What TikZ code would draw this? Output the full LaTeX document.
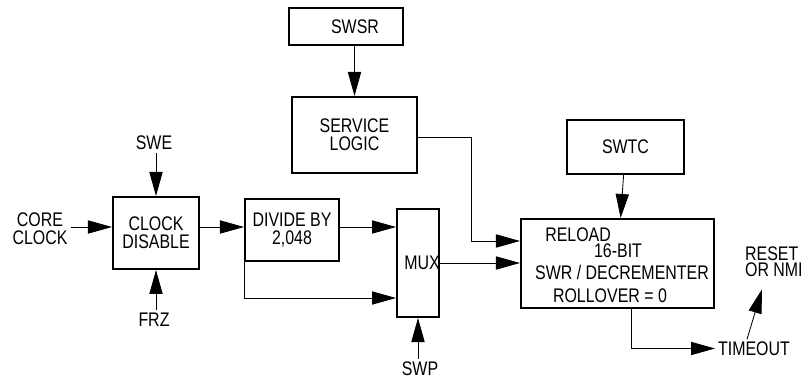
\documentclass[tikz,border=0pt]{standalone}
\usepackage{fontspec}
\setmainfont{Liberation Sans}[FakeStretch=0.81]
\usetikzlibrary{arrows.meta,calc}

\begin{document}
\begin{tikzpicture}[
    x=0.025cm, y=-0.025cm,
    font=\fontsize{14}{12.8}\selectfont,
    b/.style={draw, line width=1.4pt, align=center, inner sep=0pt},
    lb/.style={align=center, inner sep=2pt},
    fl/.style={-{Triangle[length=0.6cm,width=0.33cm]}, line width=0.6pt},
]
    \useasboundingbox (0,0) rectangle (802,379);
    % blocks
    \node[b, minimum width=2.15cm, minimum height=1.8cm] (cd) at (156,233) {CLOCK\\DISABLE};
    \node[b, minimum width=2.35cm, minimum height=1.55cm] (div) at (292,230) {DIVIDE BY\\2,048};
    \node[b, minimum width=1.05cm, minimum height=2.7cm] (mux) at (418,263) {};
    \node[lb] (muxt) at (422,263) {MUX};
    \node[b, minimum width=2.85cm, minimum height=0.925cm] (swsr) at (346,26.5) {\hspace*{0.45cm}SWSR};
    \node[b, minimum width=3.125cm, minimum height=1.9cm] (svc) at (354.5,135) {SERVICE\\LOGIC};
    \node[b, minimum width=2.925cm, minimum height=1.35cm] (swtc) at (625.5,147) {SWTC};
    \node[b, minimum width=4.825cm, minimum height=2.225cm] (reload) at (617.5,263.5) {};
    \node[lb, anchor=base west, inner sep=0pt] (rl) at (545,242) {RELOAD};
    \node[lb, anchor=base, inner sep=0pt] (bits) at (618,258) {16-BIT};
    \node[lb, anchor=base, inner sep=0pt] (dec) at (622,280) {SWR / DECREMENTER};
    \node[lb, anchor=base, inner sep=0pt] (ro) at (610,302.5) {ROLLOVER = 0};
    % outside labels
    \node[lb] (core) at (40,228.5) {CORE\\CLOCK};
    \node[lb] (swe) at (154,142.5) {SWE};
    \node[lb] (frz) at (154,320) {FRZ};
    \node[lb] (swp) at (420,369) {SWP};
    \node[lb, anchor=west] (tmo) at (715,348.5) {TIMEOUT};
    \node[lb, anchor=west, align=left, font=\fontsize{14}{11}\selectfont] (rst) at (742,261.5) {RESET\\OR NMI};
    % connectors
    \draw[fl] (core.east |- 0,227) -- (cd.west |- 0,227);
    \draw[fl] (cd.north |- swe.south) -- (cd.north);
    \draw[fl] (cd.south |- frz.north) -- (cd.south);
    \draw[fl] ([yshift=0.15cm]cd.east) -- ([yshift=0.15cm]cd.east -| div.west);
    \draw[fl] ([yshift=0.075cm]div.east) -- ([yshift=0.075cm]div.east -| mux.west);
    \draw[fl] (div.south west) |- ([yshift=-0.875cm]mux.west);
    \draw[fl] (mux.south |- swp.north) -- (mux.south);
    \draw[fl] (mux.east) -- (mux.east -| reload.west);
    \draw[fl] (svc.north |- swsr.south) -- (svc.north);
    \draw[fl] ([yshift=-0.05cm]svc.east) -- ++(53,0) |- ([yshift=0.5625cm]reload.west);
    \draw[fl] (swtc) -- (reload);
    \draw[fl] ([xshift=0.34cm]reload.south) |- (tmo.west);
    \draw[fl] ([xshift=0.8cm,yshift=-0.02cm]tmo.north west) -- ([xshift=0.5cm,yshift=-0.25cm]rst.south west);
\end{tikzpicture}
\end{document}
